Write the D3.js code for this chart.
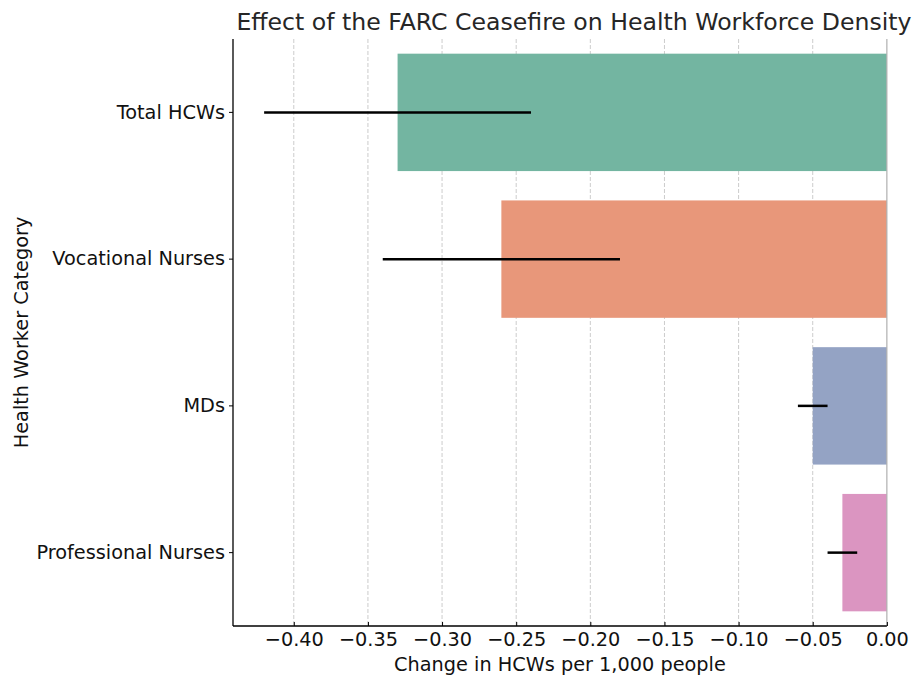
<!DOCTYPE html>
<html lang="en">
<head>
<meta charset="utf-8"/>
<title>FARC ceasefire - health workforce</title>
<script src="https://cdn.jsdelivr.net/npm/d3@7"></script>
<style>
  body { margin: 0; background: #fff; }
  svg text { font-family: "DejaVu Sans", sans-serif; }
</style>
</head>
<body>
<svg id="chart"></svg>
<script>
// values
const categories = ['Total HCWs', 'Vocational Nurses', 'MDs', 'Professional Nurses']
const effects = [-0.33, -0.26, -0.05, -0.03]
const ciLow = [-0.42, -0.34, -0.06, -0.04]
const ciHigh = [-0.24, -0.18, -0.04, -0.02]
const colors = ['#73b5a1', '#e8977a', '#94a3c4', '#db95c1']
const xTicks = [-0.40, -0.35, -0.30, -0.25, -0.20, -0.15, -0.10, -0.05, 0.00]

const width = 921
const height = 688
const margin = {top: 39, right: 3, bottom: 62, left: 233}
const labelSize = 19.3

const svg = d3.select('#chart')
  .attr('width', width)
  .attr('height', height)

const x = d3.scaleLinear()
  .domain([-0.441, 0.021])
  .range([margin.left, width - margin.right])

const y = d3.scaleBand()
  .domain(categories)
  .range([margin.top, height - margin.bottom])
  .paddingInner(0.2)
  .paddingOuter(0.1)

// dashed grid
svg.append('g')
  .selectAll('line')
  .data(xTicks.filter(d => d !== 0))
  .enter()
  .append('line')
  .attr('x1', d => x(d)).attr('x2', d => x(d))
  .attr('y1', margin.top).attr('y2', height - margin.bottom)
  .attr('stroke', '#cccccc')
  .attr('stroke-width', 1)
  .attr('stroke-dasharray', '4,2')

// bars
svg.append('g')
  .selectAll('rect')
  .data(categories)
  .enter()
  .append('rect')
  .attr('x', (d, i) => x(Math.min(0, effects[i])))
  .attr('width', (d, i) => Math.abs(x(effects[i]) - x(0)))
  .attr('y', d => y(d))
  .attr('height', y.bandwidth())
  .attr('fill', (d, i) => colors[i])

// zero line
svg.append('line')
  .attr('x1', x(0)).attr('x2', x(0))
  .attr('y1', margin.top).attr('y2', height - margin.bottom)
  .attr('stroke', '#b0b0b0')
  .attr('stroke-width', 1.2)

// error bars
svg.append('g')
  .selectAll('line')
  .data(categories)
  .enter()
  .append('line')
  .attr('x1', (d, i) => x(ciLow[i]))
  .attr('x2', (d, i) => x(ciHigh[i]))
  .attr('y1', d => y(d) + y.bandwidth() / 2)
  .attr('y2', d => y(d) + y.bandwidth() / 2)
  .attr('stroke', '#000')
  .attr('stroke-width', 2.5)

// x axis
const xAxis = svg.append('g')
  .attr('transform', `translate(0,${height - margin.bottom})`)
  .call(d3.axisBottom(x).tickValues(xTicks).tickSize(-4).tickPadding(6)
    .tickFormat(d => d3.format('.2f')(d).replace('-', '\u2212')))
xAxis.select('.domain').remove()
xAxis.append('line')
  .attr('x1', margin.left).attr('x2', x(0))
  .attr('stroke', '#000').attr('stroke-width', 1.3)
xAxis.selectAll('.tick line').attr('stroke', '#000')
xAxis.selectAll('text')
  .attr('font-size', labelSize)
  .attr('fill', '#111')

// y axis
const yAxis = svg.append('g')
  .attr('transform', `translate(${margin.left},0)`)
  .call(d3.axisLeft(y).tickSize(4).tickPadding(4))
yAxis.select('.domain')
  .attr('d', `M0,${margin.top}V${height - margin.bottom}`)
  .attr('stroke', '#000').attr('stroke-width', 1.3)
yAxis.selectAll('text')
  .attr('font-size', labelSize)
  .attr('fill', '#111')

// labels
svg.append('text')
  .attr('x', 574)
  .attr('y', 30)
  .attr('text-anchor', 'middle')
  .attr('font-size', 23.6)
  .attr('fill', '#262626')
  .text('Effect of the FARC Ceasefire on Health Workforce Density')

svg.append('text')
  .attr('x', (margin.left + x(0)) / 2)
  .attr('y', 671)
  .attr('text-anchor', 'middle')
  .attr('font-size', labelSize)
  .attr('fill', '#111')
  .text('Change in HCWs per 1,000 people')

svg.append('text')
  .attr('transform', `translate(28,${(margin.top + height - margin.bottom) / 2}) rotate(-90)`)
  .attr('text-anchor', 'middle')
  .attr('font-size', labelSize)
  .attr('fill', '#111')
  .text('Health Worker Category')
</script>
</body>
</html>
